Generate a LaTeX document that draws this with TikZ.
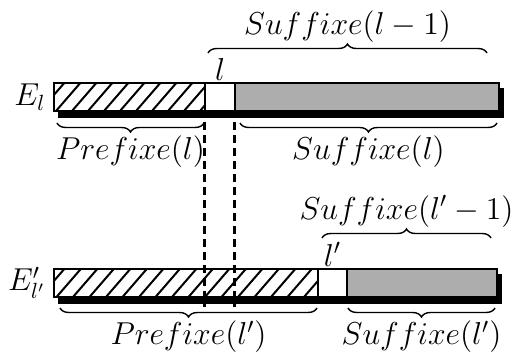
\documentclass[tikz,border=0pt]{standalone}
\usetikzlibrary{positioning,calc,decorations.pathreplacing}

\tikzset{
  cell/.style={draw=black, line width=1.2pt, inner sep=0pt, outer sep=0pt, anchor=north west, minimum height=14pt},
  hatched/.style={cell, fill=white},
  gapcell/.style={cell, fill=white},
  suffcell/.style={cell, fill=black!32},
  shadowbox/.style={fill=black},
  hatchline/.style={line width=1pt},
  brace/.style={decorate, decoration={brace, amplitude=4.5pt}, line width=0.7pt},
  lbl/.style={font=\Large, scale=1.1, inner sep=1pt},
  guide/.style={line width=1.5pt, dash pattern=on 4pt off 2.5pt}
}

\begin{document}
\begin{tikzpicture}[x=0.5pt, y=-0.5pt]
    \useasboundingbox (0,0) rectangle (511,355);

    % upper bar E_l
    \fill [shadowbox] (58,88) rectangle (504,118);
    \node [hatched, minimum width=75.5pt] (preA) at (54,83) {};
    \node [gapcell, minimum width=15pt, right=0pt of preA] (gapA) {};
    \node [suffcell, minimum width=132pt, right=0pt of gapA] (sufA) {};
    \begin{scope}
        \clip (preA.south west) rectangle (preA.north east);
        \foreach \x in {40,56,...,220}
            \draw [hatchline] (\x,111) -- ++(26,-30);
    \end{scope}
    \draw [line width=1.2pt] (preA.south west) rectangle (preA.north east);

    % lower bar E'_l'
    \fill [shadowbox] (58,274) rectangle (502,304);
    \node [hatched, minimum width=132pt] (preB) at (54,269) {};
    \node [gapcell, minimum width=14.5pt, right=0pt of preB] (gapB) {};
    \node [suffcell, minimum width=75pt, right=0pt of gapB] (sufB) {};
    \begin{scope}
        \clip (preB.south west) rectangle (preB.north east);
        \foreach \x in {40,56.5,...,330}
            \draw [hatchline] (\x,297) -- ++(26,-30);
    \end{scope}
    \draw [line width=1.2pt] (preB.south west) rectangle (preB.north east);

    % labels of the bars
    \node [lbl, left=3pt of preA] (El) {$E_l$};
    \node [lbl, left=3pt of preB] (Elp) {$E'_{l'}$};
    \node [lbl, above=0pt of gapA] (lA) {$l$};
    \node [lbl, above=0pt of gapB] (lB) {$l'$};

    % dashed guides between the bars
    \coordinate (gA1) at (gapA.south west |- 0,122);
    \coordinate (gA2) at (gapA.south east |- 0,122);
    \coordinate (gB1) at (gapA.south west |- 0,307);
    \coordinate (gB2) at (gapA.south east |- 0,307);
    \draw [guide] (gA1) -- (gB1);
    \draw [guide] (gA2) -- (gB2);

    % braces of E_l
    \coordinate (s1a) at (208,53);
    \coordinate (s1b) at (487,53);
    \draw [brace] (s1a) -- node [lbl, above=4pt] (suf1) {$Suffixe(l-1)$} (s1b);
    \coordinate (p1a) at (204,123);
    \coordinate (p1b) at (57,123);
    \draw [brace] (p1a) -- node [lbl, below=5pt] (pre1) {$Prefixe(l)$} (p1b);
    \coordinate (q1a) at (497,123);
    \coordinate (q1b) at (240,123);
    \draw [brace] (q1a) -- node [lbl, below=5pt] (suf2) {$Suffixe(l)$} (q1b);

    % braces of E'_l'
    \coordinate (s2a) at (322,238);
    \coordinate (s2b) at (491,238);
    \draw [brace] (s2a) -- node [lbl, above=4pt] (suf3) {$Suffixe(l'-1)$} (s2b);
    \coordinate (p2a) at (317,308);
    \coordinate (p2b) at (60,308);
    \draw [brace] (p2a) -- node [lbl, below=5pt] (pre2) {$Prefixe(l')$} (p2b);
    \coordinate (q2a) at (495,308);
    \coordinate (q2b) at (348,308);
    \draw [brace] (q2a) -- node [lbl, below=5pt] (suf4) {$Suffixe(l')$} (q2b);
\end{tikzpicture}
\end{document}
